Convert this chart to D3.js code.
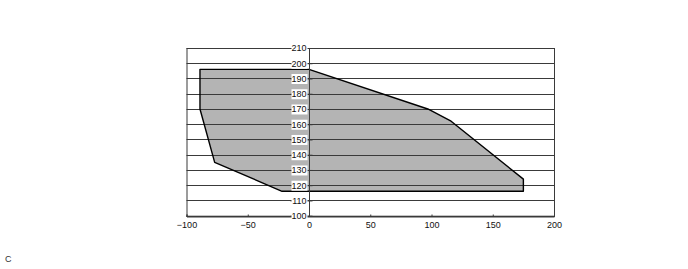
<!DOCTYPE html>
<html>
<head>
<meta charset="utf-8">
<script src="https://cdn.jsdelivr.net/npm/d3@7"></script>
<style>
  body { margin: 0; background: #fff; }
  text { font-family: "Liberation Sans", Arial, sans-serif; }
</style>
</head>
<body>
<script>
const xTicks = [-100, -50, 0, 50, 100, 150, 200];
const yTicks = [100, 110, 120, 130, 140, 150, 160, 170, 180, 190, 200, 210];
// envelope outline, clockwise from top-left
const envX = [-89, 0, 97, 116, 175, 175, -22, -77, -89];
const envY = [196, 196, 170, 162, 124, 116, 116, 135, 170];

const width = 688, height = 269;
const svg = d3.select('body').append('svg')
  .attr('width', width)
  .attr('height', height);

const x = d3.scaleLinear().domain([-100, 200]).range([186.5, 554]);
const y = d3.scaleLinear().domain([100, 210]).range([215.7, 48]);

const pts = envX.map((d, i) => [x(d), y(envY[i])]);
const envPath = d3.line()(pts) + 'Z';

// shaded envelope
svg.append('path')
  .attr('d', envPath)
  .attr('fill', '#b4b4b4');

// grid lines (drawn over the fill)
svg.append('g')
  .selectAll('line')
  .data(yTicks)
  .enter()
  .append('line')
  .attr('x1', x(-100)).attr('x2', x(200))
  .attr('y1', (d) => Math.round(y(d)) + 0.5)
  .attr('y2', (d) => Math.round(y(d)) + 0.5)
  .attr('stroke', '#3a3a3a')
  .attr('stroke-width', 1);

// envelope outline
svg.append('path')
  .attr('d', envPath)
  .attr('fill', 'none')
  .attr('stroke', '#000')
  .attr('stroke-width', 1.4)
  .attr('stroke-linejoin', 'round');

// plot frame
svg.append('rect')
  .attr('x', x(-100) + 0.5).attr('y', y(210) + 0.5)
  .attr('width', x(200) - x(-100)).attr('height', y(100) - y(210))
  .attr('fill', 'none')
  .attr('stroke', '#3a3a3a');

// vertical axis through zero
svg.append('line')
  .attr('x1', Math.round(x(0)) + 0.5).attr('x2', Math.round(x(0)) + 0.5)
  .attr('y1', y(210)).attr('y2', y(100))
  .attr('stroke', '#3a3a3a');

// bottom axis
const xAxis = d3.axisBottom(x).tickValues(xTicks).tickSize(-2).tickPadding(5);
const gx = svg.append('g')
  .attr('transform', 'translate(0,' + (Math.round(y(100)) + 0.5) + ')')
  .call(xAxis);
gx.select('.domain').attr('stroke', '#3a3a3a');
gx.selectAll('line').attr('stroke', '#3a3a3a');
gx.selectAll('text').attr('font-size', 9).attr('fill', '#111')
  .attr('font-family', '"Liberation Sans", Arial, sans-serif');

// y labels sitting on the zero axis
const yAxis = d3.axisLeft(y).tickValues(yTicks).tickSize(0).tickPadding(3);
const gy = svg.append('g')
  .attr('transform', 'translate(' + (Math.round(x(0)) + 0.5) + ',0)')
  .call(yAxis);
gy.select('.domain').remove();
gy.selectAll('.tick').insert('line', 'text')
  .attr('x1', -19).attr('x2', 3)
  .attr('stroke', '#3a3a3a');
gy.selectAll('.tick').insert('rect', 'text')
  .attr('x', -18).attr('y', -5).attr('width', 16).attr('height', 10)
  .attr('fill', '#fff');
gy.selectAll('text').attr('font-size', 9).attr('fill', '#111')
  .attr('font-family', '"Liberation Sans", Arial, sans-serif');

svg.append('text')
  .attr('x', 5).attr('y', 262)
  .attr('font-size', 9)
  .attr('fill', '#333')
  .text('C');
</script>
</body>
</html>
